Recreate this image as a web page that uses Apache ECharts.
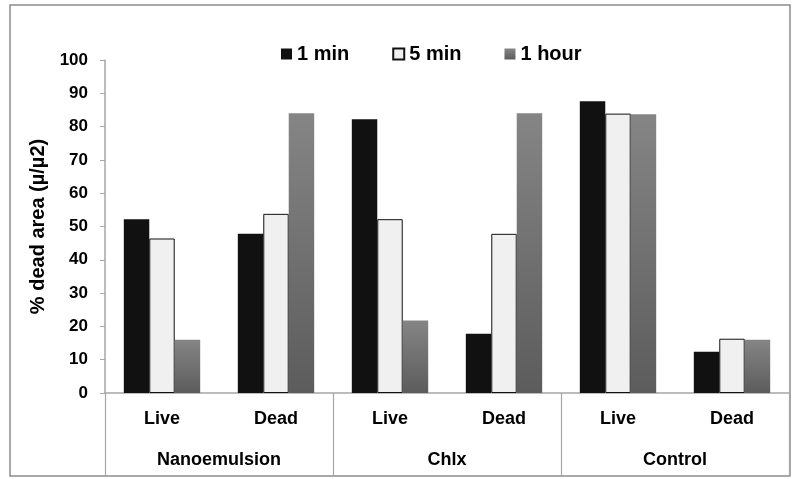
<!DOCTYPE html>
<html>
<head>
<meta charset="utf-8">
<script src="https://cdn.jsdelivr.net/npm/echarts@6/dist/echarts.min.js"></script>
<style>
  html, body { margin: 0; padding: 0; background: #ffffff; }
  #chart { width: 792px; height: 479px; }
</style>
</head>
<body>
<div id="chart"></div>
<script>
  // categories (inner level) and groups (outer level)
  var categories = ['Live', 'Dead', 'Live', 'Dead', 'Live', 'Dead'];
  var groups = ['Nanoemulsion', 'Chlx', 'Control'];
  var seriesNames = ['1 min', '5 min', '1 hour'];

  // values
  var oneMin = [52.2, 47.8, 82.2, 17.8, 87.6, 12.4];
  var fiveMin = [46.4, 53.8, 52.2, 47.8, 83.9, 16.3];
  var oneHour = [16.0, 84.0, 21.8, 84.0, 83.7, 16.0];

  var yTicks = { min: 0, max: 100, interval: 10 };

  var font = 'Liberation Sans, Arial, sans-serif';
  var grayFill = new echarts.graphic.LinearGradient(0, 0, 0, 1, [
    { offset: 0, color: '#858585' },
    { offset: 1, color: '#5c5c5c' }
  ]);

  var chart = echarts.init(document.getElementById('chart'));
  var option = {
    animation: false,
    backgroundColor: '#ffffff',
    graphic: [{
      type: 'rect',
      shape: { x: 10, y: 5, width: 780, height: 471 },
      style: { fill: 'none', stroke: '#8c8c8c', lineWidth: 1.5 },
      silent: true
    }],
    legend: {
      left: 276,
      top: 39,
      icon: 'rect',
      itemWidth: 11,
      itemHeight: 11,
      itemGap: 43,
      textStyle: { fontFamily: font, fontWeight: 'bold', fontSize: 20, color: '#000' },
      data: seriesNames
    },
    grid: { left: 105, right: 3, top: 60, bottom: 86 },
    xAxis: [{
      type: 'category',
      data: categories,
      axisLine: { lineStyle: { color: '#a6a6a6', width: 1.5 } },
      axisTick: { show: false },
      axisLabel: { fontFamily: font, fontWeight: 'bold', fontSize: 18, color: '#000', margin: 17 }
    }, {
      type: 'category',
      data: groups,
      position: 'bottom',
      axisLine: { show: false },
      axisTick: { show: true, length: 83, lineStyle: { color: '#a6a6a6', width: 1.2 } },
      axisLabel: { fontFamily: font, fontWeight: 'bold', fontSize: 18, color: '#000', margin: 58 }
    }],
    yAxis: {
      type: 'value',
      min: yTicks.min,
      max: yTicks.max,
      interval: yTicks.interval,
      name: '% dead area (µ/µ2)',
      nameLocation: 'middle',
      nameGap: 52,
      nameTextStyle: { fontFamily: font, fontWeight: 'bold', fontSize: 20, color: '#000' },
      axisLine: { show: true, lineStyle: { color: '#a6a6a6', width: 1.5 } },
      axisTick: { show: true, length: 5, lineStyle: { color: '#a6a6a6' } },
      splitLine: { show: false },
      axisLabel: { fontFamily: font, fontWeight: 'bold', fontSize: 17, color: '#000', margin: 17 }
    },
    series: [{
      name: seriesNames[0],
      type: 'bar',
      data: oneMin,
      barGap: '0%',
      barCategoryGap: '33%',
      itemStyle: { color: '#111111' }
    }, {
      name: seriesNames[1],
      type: 'bar',
      data: fiveMin,
      itemStyle: { color: '#f0f0f0', borderColor: '#111111', borderWidth: 1 }
    }, {
      name: seriesNames[2],
      type: 'bar',
      data: oneHour,
      itemStyle: { color: grayFill }
    }]
  };
  chart.setOption(option);
</script>
</body>
</html>
